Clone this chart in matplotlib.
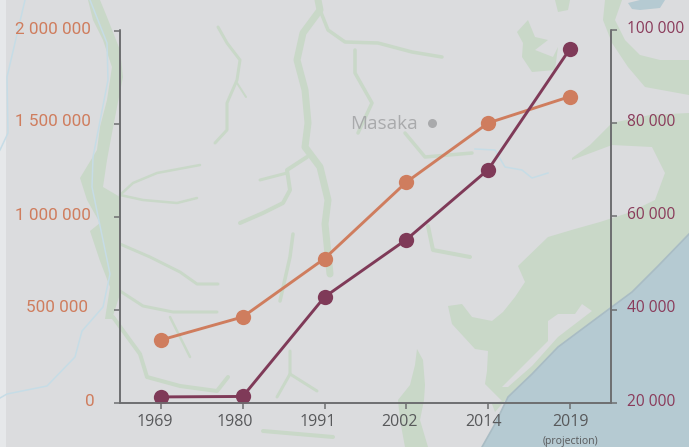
"""Population chart over a faint map of the Masaka area"""
import matplotlib
matplotlib.use('Agg')
import matplotlib.pyplot as plt
from matplotlib.transforms import ScaledTranslation

W, H = 689, 447

years = ['1969', '1980', '1991', '2002', '2014', '2019']
orange_vals = [336000, 460000, 774000, 1185000, 1503000, 1645000]
purple_vals = [21200, 21300, 42700, 55050, 70100, 96100]
left_ticks = [0, 500000, 1000000, 1500000, 2000000]
left_labels = ['0', '500 000', '1 000 000', '1 500 000', '2 000 000']
right_ticks = [20000, 40000, 60000, 80000, 100000]
right_labels = ['20 000', '40 000', '60 000', '80 000', '100 000']

BG = '#DBDCDE'
GREEN = '#C9D8C8'
WATER = '#B5CAD2'
RIVER = '#C6DCE6'
AXIS = '#6D6E70'
ORANGE = '#CF7D5E'
PURPLE = '#7F3A58'

# map backdrop, traced in image pixels
sea = [(482, 447), (495, 424), (508, 397), (532, 374), (558, 347), (605, 312),
       (632, 292), (658, 266), (689, 234), (689, 447)]
coast_land = [(572, 158), (590, 145), (612, 123), (650, 115), (689, 113), (689, 234),
              (658, 266), (632, 292), (605, 312), (558, 347), (532, 374), (508, 397),
              (495, 412), (492, 404), (502, 401), (485, 384), (487, 371), (488, 351),
              (475, 349), (452, 324), (448, 306), (462, 304), (472, 317), (492, 321),
              (503, 312), (515, 297), (525, 282), (518, 266), (548, 237), (575, 229),
              (600, 222), (628, 213), (655, 200), (665, 173), (652, 147), (612, 145),
              (572, 160)]
north_land = [(605, 0), (689, 0), (689, 95), (645, 87), (628, 67), (612, 43), (603, 20)]
hill_a = [(517, 32), (528, 20), (535, 37), (548, 40), (535, 50), (553, 57), (558, 47),
          (555, 70), (532, 72), (522, 57), (523, 43)]
hill_b = [(555, 0), (570, 0), (568, 10), (558, 12)]
strip_s = [(417, 349), (423, 360), (425, 385), (424, 400), (420, 420), (428, 447),
           (405, 447), (400, 420), (398, 400), (410, 385), (415, 365)]
west_valley = [(88, 0), (100, 0), (107, 17), (120, 50), (123, 77), (117, 107), (112, 133),
               (107, 160), (103, 187), (120, 197), (121, 244), (121, 291), (112, 319),
               (105, 319), (110, 287), (100, 261), (90, 231), (100, 223), (87, 200),
               (80, 178), (97, 150), (100, 127), (107, 100), (112, 67), (103, 40), (93, 20)]
lagoon = [(502, 387), (525, 364), (548, 341), (548, 321), (558, 314), (575, 314),
          (582, 304), (592, 311), (558, 337), (532, 366), (508, 387)]
lake_n = [(622, 0), (689, 0), (689, 60), (660, 60), (640, 55), (625, 40), (615, 20)]
lake_specks = [(628, 3), (640, 0), (665, 0), (660, 8), (640, 10), (632, 9)]
green_rivers = [
    ([(120, 244), (150, 257), (180, 272), (197, 284), (218, 284)], 3),
    ([(120, 291), (143, 306), (173, 312), (217, 312)], 3),
    ([(170, 317), (190, 357)], 2.5),
    ([(113, 317), (140, 354), (147, 377), (180, 386), (217, 391), (228, 377)], 4),
    ([(120, 195), (133, 183), (157, 173), (200, 165)], 2.5),
    ([(120, 195), (143, 200), (177, 203), (197, 198)], 2.5),
    ([(218, 27), (227, 43), (240, 60), (237, 80), (227, 103), (227, 130), (215, 143)], 3),
    ([(237, 83), (246, 97)], 2),
    ([(318, 0), (320, 10), (303, 33), (297, 60), (305, 90), (308, 123), (305, 147),
      (320, 167), (328, 200), (325, 224), (330, 274)], 7),
    ([(320, 10), (328, 30), (345, 42), (378, 43), (412, 52), (442, 57)], 3.5),
    ([(355, 50), (355, 73), (372, 103), (358, 133)], 3.5),
    ([(405, 133), (425, 157), (472, 153)], 3.5),
    ([(307, 157), (287, 170), (290, 190), (283, 203), (263, 213), (240, 223)], 4),
    ([(260, 180), (287, 173)], 3),
    ([(293, 234), (290, 257), (280, 301)], 3.5),
    ([(290, 351), (290, 374), (277, 397)], 3),
    ([(290, 374), (317, 391)], 3),
    ([(263, 431), (333, 437)], 4),
    ([(428, 226), (433, 250), (470, 257)], 4),
]
blue_rivers = [
    [(25, 0), (7, 77), (8, 133), (0, 150)],
    [(90, 0), (107, 43), (108, 80), (93, 157), (92, 187), (110, 274), (103, 307),
     (82, 331), (75, 357), (47, 386), (7, 394), (0, 398)],
    [(475, 149), (495, 150), (505, 167), (522, 170), (532, 178), (548, 173)],
]
# x labels in the source sit left of their ticks (pixels)
xlabel_shift = [-6.5, -8, -7, -7, -5, 0]
left_shift = [4, -2, 0, 0, 0]

plt.rcParams['font.family'] = ['Open Sans', 'DejaVu Sans']
fig = plt.figure(figsize=(W / 100, H / 100), dpi=100, facecolor=BG)

# backdrop axes
bg = fig.add_axes([0, 0, 1, 1], zorder=0)
bg.set_xlim(0, W)
bg.set_ylim(H, 0)
bg.axis('off')
bg.axvspan(0, 6, color='#E6E8EA', lw=0)
for poly in [north_land, coast_land, hill_a, hill_b, strip_s, west_valley]:
    bg.fill(*zip(*poly), color=GREEN, lw=0)
for poly in [lagoon, lake_n]:
    bg.fill(*zip(*poly), color=BG, lw=0)
bg.fill(*zip(*lake_specks), color=WATER, lw=0)
for path, lw in green_rivers:
    bg.plot(*zip(*path), color=GREEN, lw=lw * 0.72, solid_capstyle='round')
for path in blue_rivers:
    bg.plot(*zip(*path), color=RIVER, lw=1.1)
bg.fill(*zip(*sea), color=WATER, lw=0)
bg.plot(*zip(*sea[:9]), color='#A9BCC4', lw=1.2)
bg.plot([432], [122.5], 'o', color='#A9AAAC', ms=6.5, mew=0)
bg.text(384, 124, 'Masaka', fontsize=13.6, color='#A9AAAC', ha='center', va='center')

# chart axes
ax = fig.add_axes([120 / W, 1 - 402.5 / H, 491 / W, 372 / H], zorder=2)
ax.patch.set_visible(False)
ax2 = ax.twinx()
ax2.patch.set_visible(False)

xs = list(range(len(years)))
ax.plot(xs, orange_vals, color=ORANGE, lw=2.1, marker='o', ms=11, mew=0)
ax2.plot(xs, purple_vals, color=PURPLE, lw=2.1, marker='o', ms=11, mew=0)

ax.set_xlim(-0.5, 5.5)
ax.set_ylim(0, 2000000)
ax2.set_ylim(20000, 100000)

ax.set_xticks(xs, years)
ax.set_yticks(left_ticks, left_labels, family=['Roboto', 'DejaVu Sans'], fontsize=12.3, color=ORANGE)
ax2.set_yticks(right_ticks, right_labels, fontsize=11.2, color='#8A3A5A')
ax.tick_params(axis='x', length=4.3, width=1.1, color=AXIS, labelcolor='#58595B',
               labelsize=11.5, pad=4)
ax.tick_params(axis='y', length=4.3, width=1.1, color=AXIS, pad=17)
ax2.tick_params(axis='y', length=4.3, width=1.1, color=AXIS, pad=7)

# nudge tick labels to where the source has them
for label, dx in zip(ax.get_xticklabels(), xlabel_shift):
    label.set_transform(label.get_transform() + ScaledTranslation(dx / 100, 0, fig.dpi_scale_trans))
for label, dx in zip(ax.get_yticklabels(), left_shift):
    label.set_transform(label.get_transform() + ScaledTranslation(dx / 100, 0.03, fig.dpi_scale_trans))
for label in ax2.get_yticklabels():
    label.set_transform(label.get_transform() + ScaledTranslation(0, 0.03, fig.dpi_scale_trans))

for a in (ax, ax2):
    a.spines['top'].set_visible(False)
    for side in ('left', 'right', 'bottom'):
        a.spines[side].set_color(AXIS)
        a.spines[side].set_linewidth(1.2)

ax.annotate('(projection)', (5, 0), xycoords=('data', 'axes fraction'), xytext=(0, -28),
            textcoords='offset points', ha='center', va='center', fontsize=7.5, color='#58595B')

fig.savefig('out.png', dpi=100, facecolor=BG)
